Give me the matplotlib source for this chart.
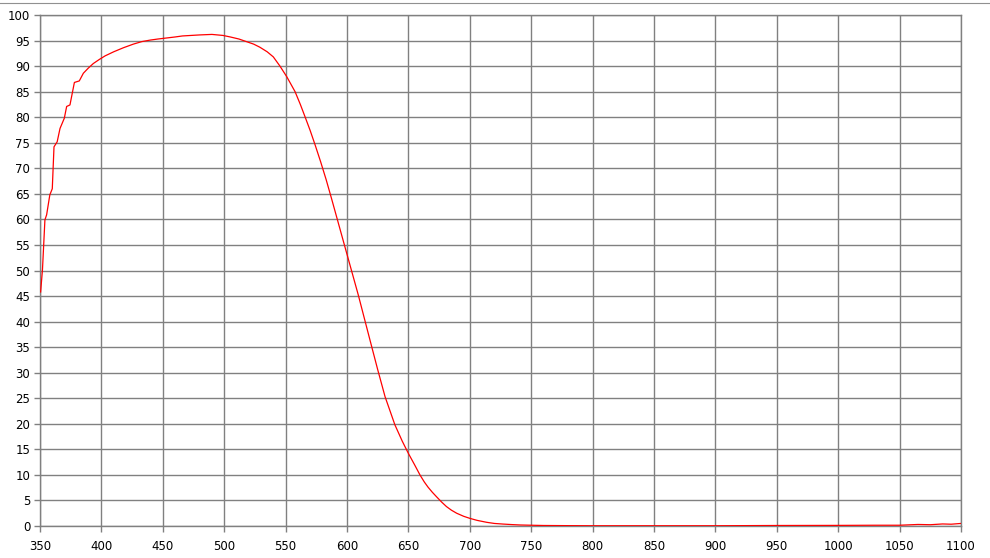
import numpy as np
import matplotlib
matplotlib.use("Agg")
import matplotlib.pyplot as plt
import matplotlib.lines as mlines

# wavelength (nm) and transmittance (%)
wavelength = [350.5, 352, 354, 355.4, 358, 360, 361.4, 364, 366.3, 369.8, 371.7, 374.4,
              378, 382, 385.3, 389.3, 393.4, 398.3, 403, 410, 418, 426, 433, 440, 446,
              453, 460, 466, 473, 480, 490, 499, 505, 512, 518, 524, 529, 535, 540,
              545.4, 551, 557.7, 562, 565.8, 570, 574, 578.5, 583, 587.5, 592, 601,
              609.2, 618.7, 625, 631, 639, 645, 650, 655, 659.4, 663, 666, 669.5, 673,
              677, 681, 685, 689.3, 695, 700, 706, 713.8, 720, 727, 734, 741, 750, 760,
              780, 800, 850, 900, 950, 1000, 1030, 1050, 1065, 1075, 1085, 1092, 1100]
transmit = [45.8, 50.1, 59.9, 60.9, 64.8, 66.0, 74.2, 75.2, 77.8, 79.8, 82.1, 82.4,
            86.8, 87.1, 88.6, 89.6, 90.5, 91.3, 92.0, 92.8, 93.6, 94.3, 94.8, 95.1, 95.3,
            95.5, 95.7, 95.9, 96.0, 96.1, 96.2, 96.0, 95.7, 95.3, 94.8, 94.3, 93.7, 92.8, 91.8,
            90.0, 87.9, 85.0, 82.5, 80.1, 77.4, 74.6, 71.3, 67.8, 64.0, 60.1, 52.3,
            45.2, 36.4, 30.6, 25.3, 19.8, 16.6, 14.2, 12.0, 10.0, 8.6, 7.6, 6.6, 5.7,
            4.7, 3.8, 3.1, 2.5, 1.9, 1.5, 1.1, 0.72, 0.5, 0.38, 0.28, 0.2, 0.15, 0.1,
            0.07, 0.05, 0.05, 0.05, 0.1, 0.12, 0.15, 0.15, 0.3, 0.25, 0.4, 0.35, 0.5]

xticks = list(range(350, 1101, 50))
yticks = list(range(0, 101, 5))

fig = plt.figure(figsize=(9.9, 5.58), dpi=100)
ax = fig.add_axes([40/990, 32/558, 921/990, 511/558])

ax.plot(wavelength, transmit, color='#ff0000', lw=0.9, zorder=3)

ax.set_xlim(350, 1100)
ax.set_ylim(0, 100)
ax.set_xticks(xticks)
ax.set_yticks(yticks)
ax.grid(True, color='#808080', lw=1.0)
for s in ax.spines.values():
    s.set_color('#808080')
    s.set_linewidth(1.0)
ax.tick_params(axis='both', colors='#808080', labelcolor='black',
               labelsize=8.5, length=4, width=1.0, direction='out')
ax.tick_params(axis='x', pad=6)
ax.tick_params(axis='y', pad=3)

# thin grey strip at top of the screenshot
fig.add_artist(mlines.Line2D([0, 1], [1 - 3/558, 1 - 3/558], color='#909090', lw=0.8))

fig.savefig('out.png', dpi=100)
